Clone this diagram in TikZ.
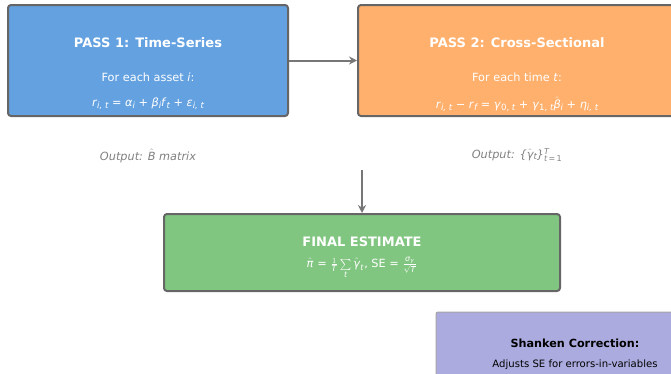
\documentclass[tikz,border=0pt]{standalone}
\usepackage{amsmath}
\usepackage{fontspec}
\setmainfont{DejaVu Sans}
\usetikzlibrary{arrows.meta}
\definecolor{passblue}{HTML}{64A1E0}
\definecolor{passorange}{HTML}{FFB06D}
\definecolor{finalgreen}{HTML}{80C580}
\definecolor{shankenlav}{HTML}{ABABDF}
\definecolor{edgegray}{HTML}{666666}
\definecolor{arrowgray}{HTML}{777777}
\definecolor{notegray}{HTML}{808080}
% italic letters in the sans text face inside formulas
\newcommand{\dv}[1]{\textit{#1}}
% lowered index set in the text face
\newcommand{\idx}[1]{\raisebox{-0.3ex}{\fontsize{8.6}{9}\selectfont\itshape #1}}
\tikzset{
  x=1pt, y=-1pt,
  stagebox/.style={draw=edgegray, line width=2pt, rounded corners=3pt, inner sep=0pt},
  sidebox/.style={draw=black!35, line width=1pt, rounded corners=2pt, fill=shankenlav, inner sep=0pt},
  boxtitle/.style={text=white, font=\fontsize{13}{15}\selectfont\bfseries},
  boxtext/.style={text=white, font=\fontsize{11.3}{13}\selectfont},
  note/.style={text=notegray, font=\fontsize{11.3}{13}\selectfont\itshape},
  flow/.style={draw=arrowgray, line width=2pt, -{Stealth[length=8pt,width=8pt]}}
}
\begin{document}
\begin{tikzpicture}
\useasboundingbox (0,0) rectangle (671,373);
% the two estimation passes
\node[stagebox, fill=passblue, minimum width=280pt, minimum height=111pt] (p1) at (148,60.5) {};
\node[stagebox, fill=passorange, minimum width=318pt, minimum height=111pt] (p2) at (517,60.5) {};
\node[boxtitle] (p1t) at (148,43) {PASS 1: Time-Series};
\node[boxtext] (p1s) at (148,77) {For each asset \dv{i}:};
\node[boxtext] (p1f) at (148,104) {\dv{r}\idx{i, t} = \dv{α}\idx{i} + \dv{β}\idx{i}\dv{f}\idx{t} + \dv{ε}\idx{i, t}};
\node[boxtitle] (p2t) at (517,43) {PASS 2: Cross-Sectional};
\node[boxtext] (p2s) at (517,77) {For each time \dv{t}:};
\node[boxtext] (p2f) at (517,104) {\dv{r}\idx{i, t} − \dv{r}\idx{f} = \dv{γ}\idx{\upshape 0, \itshape t} + \dv{γ}\idx{\upshape 1, \itshape t}$\hat{\text{\dv{β}}}$\idx{i} + \dv{η}\idx{i, t}};
% outputs of each pass
\node[note] (o1) at (148,156) {Output: $\hat{\text{\dv{B}}}$ matrix};
\node[note] (o2) at (517,155) {Output: \{$\hat{\text{\dv{γ}}}$\idx{t}\}$^{\text{\fontsize{8}{9}\selectfont\itshape T}}_{\text{\fontsize{8}{9}\selectfont\itshape t\upshape\,=\,1}}$};
% final estimate
\node[stagebox, fill=finalgreen, minimum width=396pt, minimum height=77pt] (fin) at (362,252.5) {};
\node[boxtitle] (fint) at (362,242) {FINAL ESTIMATE};
\node[boxtext] (finf) at (362,268) {$\hat{\text{\dv{π}}}\text{ = }\frac{1}{\text{\dv{T}}}\sum\limits_{\text{\dv{t}}}\hat{\text{\dv{γ}}}_{\text{\dv{t}}}$, SE = $\frac{\text{\dv{σ}}_{\text{\dv{γ}}}}{\sqrt{\text{\dv{T}}}}$};
% side note on the standard errors
\node[sidebox, minimum width=278pt, minimum height=90pt] (sh) at (575,357) {};
\node[font=\fontsize{11.2}{13}\selectfont\bfseries] (sht) at (575,343) {Shanken Correction:};
\node[font=\fontsize{10.1}{12}\selectfont] (shs) at (575,365) {Adjusts SE for errors-in-variables};
% connectors
\coordinate (drop) at (362,170);
\draw[flow] (p1.east) -- (p2.west);
\draw[flow] (drop) -- (fin.north);
\end{tikzpicture}
\end{document}
